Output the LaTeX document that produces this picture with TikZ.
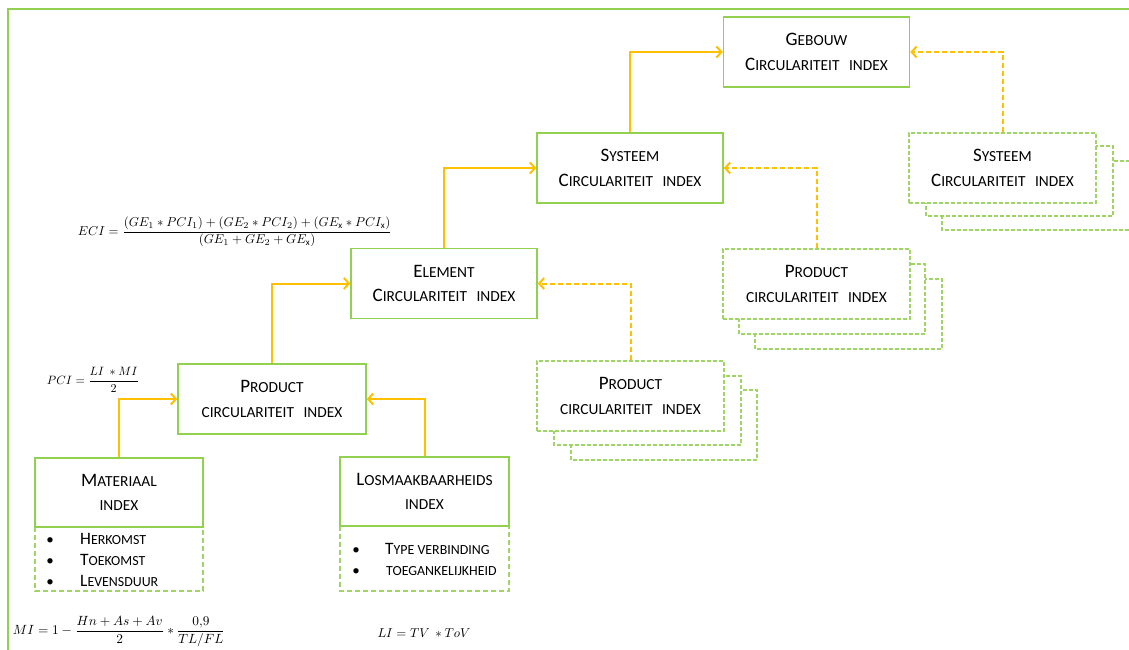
\documentclass[tikz,border=0pt]{standalone}
\usepackage{amsmath}
\usepackage{fontspec}
\setmainfont{Carlito}
\usepackage{graphicx}
\usetikzlibrary{arrows.meta}
\definecolor{lgreen}{HTML}{92D050}
\definecolor{dgreen}{HTML}{9ED565}
\definecolor{orng}{HTML}{FFC000}
\newcommand\sca[1]{{\fontsize{15.4}{16}\selectfont\MakeUppercase{#1}}}
\newcommand\scb[1]{{\fontsize{13.9}{14}\selectfont\MakeUppercase{#1}}}
\newcommand\wgap{\hspace{0.5em}}
\begin{document}
\begin{tikzpicture}[x=1pt,y=-1pt,
  box/.style={draw=lgreen, line width=1.5pt, fill=white, minimum width=186pt, minimum height=70pt, align=center, font=\fontsize{19}{24.5}\selectfont, inner sep=0pt},
  dbox/.style={box, draw=dgreen, dash pattern=on 4pt off 2pt, line width=1.1pt},
  backbox/.style={draw=dgreen, fill=white, dash pattern=on 4pt off 2pt, line width=1.1pt},
  listbox/.style={draw=dgreen, line width=1.5pt, dash pattern=on 5pt off 3pt},
  conn/.style={draw=orng, line width=2pt, -{Straight Barb[length=5pt,width=11pt,line width=2pt]}},
  dconn/.style={conn, dash pattern=on 5pt off 3pt},
  item/.style={anchor=base west, inner sep=0pt, font=\fontsize{17.4}{18}\selectfont},
  bul/.style={anchor=base, inner sep=0pt, font=\fontsize{15}{18}\selectfont},
  frm/.style={inner sep=0pt}
]
\useasboundingbox (0,0) rectangle (1129,650);
% frame
\draw[lgreen, line width=2pt] (8,660) -- (8,9) -- (1140,9);

% top
\node[box] (geb) at (816.5,52) {G\sca{ebouw}\\C\sca{irculariteit}\wgap\sca{index}};
\node[box] (sysA) at (630,168) {S\sca{ysteem}\\C\sca{irculariteit}\wgap\sca{index}};
% systeem stack
\draw[backbox] (942,161) rectangle (1132,230);
\draw[backbox] (926,146) rectangle (1113,216);
\node[dbox, minimum width=187pt] (sysB) at (1002.5,168) {S\sca{ysteem}\\C\sca{irculariteit}\wgap\sca{index}};

\node[box] (ele) at (444,283.5) {E\sca{lement}\\C\sca{irculariteit}\wgap\sca{index}};
% product stack B
\draw[backbox] (755,279) rectangle (942,349);
\draw[backbox] (739,264) rectangle (925,334);
\node[dbox, minimum width=187pt] (prodB) at (816.5,284) {P\sca{roduct}\\\sca{circulariteit}\wgap\sca{index}};
% product stack C
\draw[backbox] (571,390) rectangle (757,460);
\draw[backbox] (554,376) rectangle (741,445);
\node[dbox, minimum width=187pt] (prodC) at (630.5,396) {P\sca{roduct}\\\sca{circulariteit}\wgap\sca{index}};

\node[box, minimum width=188pt] (prodA) at (272,399) {P\sca{roduct}\\\sca{circulariteit}\wgap\sca{index}};

% materiaal
\draw[listbox] (35,527) rectangle (203,591);
\node[box, minimum width=168pt, minimum height=69pt] (mat) at (119,492.5) {M\sca{ateriaal}\\\sca{index}};
\node[bul] (mb1) at (50,544) {•};
\node[bul] (mb2) at (50,565) {•};
\node[bul] (mb3) at (50,586) {•};
\node[item] (m1) at (80,544) {H\scb{erkomst}};
\node[item] (m2) at (80,565) {T\scb{oekomst}};
\node[item] (m3) at (80,586) {L\scb{evensduur}};

% losmaakbaarheids
\draw[listbox] (340,526) rectangle (509,591);
\node[box, minimum width=169pt, minimum height=69pt] (los) at (424.5,491.5) {L\sca{osmaakbaarheids}\\\sca{index}};
\node[bul] (lb1) at (356,554) {•};
\node[bul] (lb2) at (356,575) {•};
\node[item] (l1) at (385,554) {T\scb{ype verbinding}};
\node[item] (l2) at (386,575) {\scb{toegankelijkheid}};

% connectors
\draw[conn] (mat.north) |- (prodA.west);
\draw[conn] (los.north) |- (prodA.east);
\draw[conn] (prodA.north) |- (ele.west);
\draw[conn] (ele.north) |- (sysA.west);
\draw[conn] (sysA.north) |- (geb.west);
\draw[dconn] (prodC.north) |- (ele.east);
\draw[dconn] (prodB.north) |- (sysA.east);
\draw[dconn] (sysB.north) |- (geb.east);

% formulas
\node[frm] (eci) at (235,232) {\resizebox{314pt}{!}{$ECI=\dfrac{(GE_1*PCI_1)+(GE_2*PCI_2)+(GE_{\mathrm{x}}*PCI_{\mathrm{x}})}{(GE_1+GE_2+GE_{\mathrm{x}})}$}};
\node[frm] (pci) at (93,380) {\resizebox{92pt}{!}{$PCI=\dfrac{LI\ *MI}{2}$}};
\node[frm] (mi) at (119,632) {\resizebox{212pt}{!}{$MI=1-\dfrac{Hn+As+Av}{2}*\dfrac{0{,}9}{TL/FL}$}};
\node[frm] (li) at (424,633) {\resizebox{93pt}{!}{$LI=TV\ *ToV$}};
\end{tikzpicture}
\end{document}
